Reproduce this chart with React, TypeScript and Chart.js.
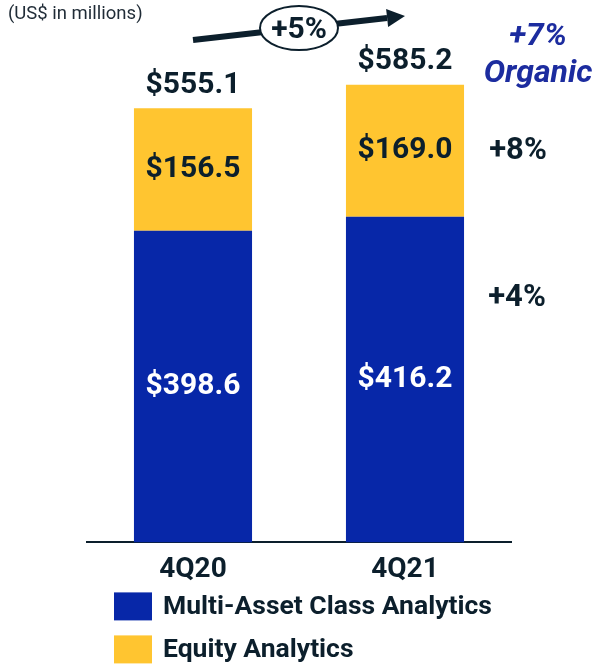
import React, { useEffect, useRef } from 'react';
import { Chart, registerables } from 'chart.js';

Chart.register(...registerables);

const categories = ['4Q20', '4Q21'];
const multiAsset = [398.6, 416.2];
const equity = [156.5, 169.0];
const totals = [555.1, 585.2];
const seriesNames = ['Multi-Asset Class Analytics', 'Equity Analytics'];
const segmentGrowth = ['+4%', '+8%'];
const totalGrowth = '+5%';
const organicGrowth = ['+7%', 'Organic'];
const unitNote = '(US$ in millions)';

const BLUE = '#0727A8';
const YELLOW = '#FFC530';
const INK = '#0C1F2C';
const ORGANIC = '#1C2C9F';
const FONT = 'Roboto, "Noto Sans", sans-serif';

const overlay = {
  id: 'overlay',
  afterDraw(chart: any) {
    const ctx = chart.ctx as CanvasRenderingContext2D;
    const area = chart.chartArea;
    const m0 = chart.getDatasetMeta(0);
    const m1 = chart.getDatasetMeta(1);
    ctx.save();
    ctx.textAlign = 'center';
    ctx.textBaseline = 'middle';

    // segment values
    ctx.font = `bold 30px ${FONT}`;
    m0.data.forEach((bar: any, i: number) => {
      ctx.fillStyle = '#FFFFFF';
      ctx.fillText('$' + multiAsset[i].toFixed(1), bar.x, (bar.y + bar.base) / 2);
    });
    m1.data.forEach((bar: any, i: number) => {
      ctx.fillStyle = INK;
      ctx.fillText('$' + equity[i].toFixed(1), bar.x, (bar.y + bar.base) / 2);
      ctx.fillText('$' + totals[i].toFixed(1), bar.x, bar.y - 23);
    });

    // segment growth
    ctx.font = `bold 31px ${FONT}`;
    ctx.fillStyle = INK;
    const b1 = m1.data[1];
    const b0 = m0.data[1];
    ctx.fillText(segmentGrowth[1], area.right + 7, (b1.y + b1.base) / 2);
    ctx.fillText(segmentGrowth[0], area.right + 6, b0.y + (b0.base - b0.y) * 0.25);

    // organic
    ctx.font = `italic bold 32px ${FONT}`;
    ctx.fillStyle = ORGANIC;
    ctx.fillText(organicGrowth[0], area.right + 27, 37);
    ctx.fillText(organicGrowth[1], area.right + 27, 74);

    // unit note
    ctx.textAlign = 'left';
    ctx.font = `18.5px ${FONT}`;
    ctx.fillStyle = '#1F2B36';
    ctx.fillText(unitNote, 8, 14);

    // arrow
    const x0 = m1.data[0].x;
    const x1 = m1.data[1].x;
    const y0 = 40;
    const y1 = 16;
    const ang = Math.atan2(y1 - y0, x1 - x0);
    const headLen = 18;
    const headHalf = 9;
    const bx = x1 - headLen * Math.cos(ang);
    const by = y1 - headLen * Math.sin(ang);
    ctx.strokeStyle = INK;
    ctx.lineWidth = 6;
    ctx.beginPath();
    ctx.moveTo(x0, y0);
    ctx.lineTo(bx, by);
    ctx.stroke();
    ctx.fillStyle = INK;
    ctx.beginPath();
    ctx.moveTo(x1, y1);
    ctx.lineTo(bx + headHalf * Math.sin(ang), by - headHalf * Math.cos(ang));
    ctx.lineTo(bx - headHalf * Math.sin(ang), by + headHalf * Math.cos(ang));
    ctx.closePath();
    ctx.fill();
    const cx = (x0 + x1) / 2;
    const cy = 28;
    ctx.fillStyle = '#FFFFFF';
    ctx.lineWidth = 2;
    ctx.beginPath();
    ctx.ellipse(cx, cy, 39, 22, 0, 0, Math.PI * 2);
    ctx.fill();
    ctx.stroke();
    ctx.textAlign = 'center';
    ctx.fillStyle = INK;
    ctx.font = `bold 30px ${FONT}`;
    ctx.fillText(totalGrowth, cx, cy + 2);

    // legend
    const colors = [BLUE, YELLOW];
    chart.data.datasets.forEach((ds: any, i: number) => {
      const top = area.bottom + 50 + i * 43;
      ctx.fillStyle = colors[i];
      ctx.fillRect(area.left + 27, top, 38, 28);
      ctx.fillStyle = INK;
      ctx.textAlign = 'left';
      ctx.font = `bold 26.5px ${FONT}`;
      ctx.fillText(ds.label, area.left + 76, top + 15);
    });
    ctx.restore();
  },
};

export default function App() {
  const ref = useRef<HTMLCanvasElement | null>(null);
  useEffect(() => {
    if (!ref.current) return;
    const chart = new Chart(ref.current, {
      type: 'bar',
      data: {
        labels: categories,
        datasets: [
          { label: seriesNames[0], data: multiAsset, backgroundColor: BLUE, borderWidth: 0 },
          { label: seriesNames[1], data: equity, backgroundColor: YELLOW, borderWidth: 0 },
        ],
      },
      options: {
        responsive: false,
        animation: false,
        layout: { padding: { left: 87, right: 86, top: 34, bottom: 67 } },
        datasets: { bar: { categoryPercentage: 1, barPercentage: 0.557 } },
        plugins: { legend: { display: false }, tooltip: { enabled: false } },
        scales: {
          x: {
            stacked: true,
            grid: { display: false, drawTicks: false },
            border: { display: true, color: INK, width: 2 },
            ticks: { color: INK, padding: 11, font: { family: FONT, size: 28, weight: 'bold' } },
          },
          y: { stacked: true, display: false, min: 0, max: 650 },
        },
      },
      plugins: [overlay],
    });
    return () => chart.destroy();
  }, []);
  return (
    <div style={{ position: 'absolute', left: 0, top: 0, width: 597, height: 665, background: '#fff' }}>
      <canvas ref={ref} width={597} height={665} />
    </div>
  );
}
